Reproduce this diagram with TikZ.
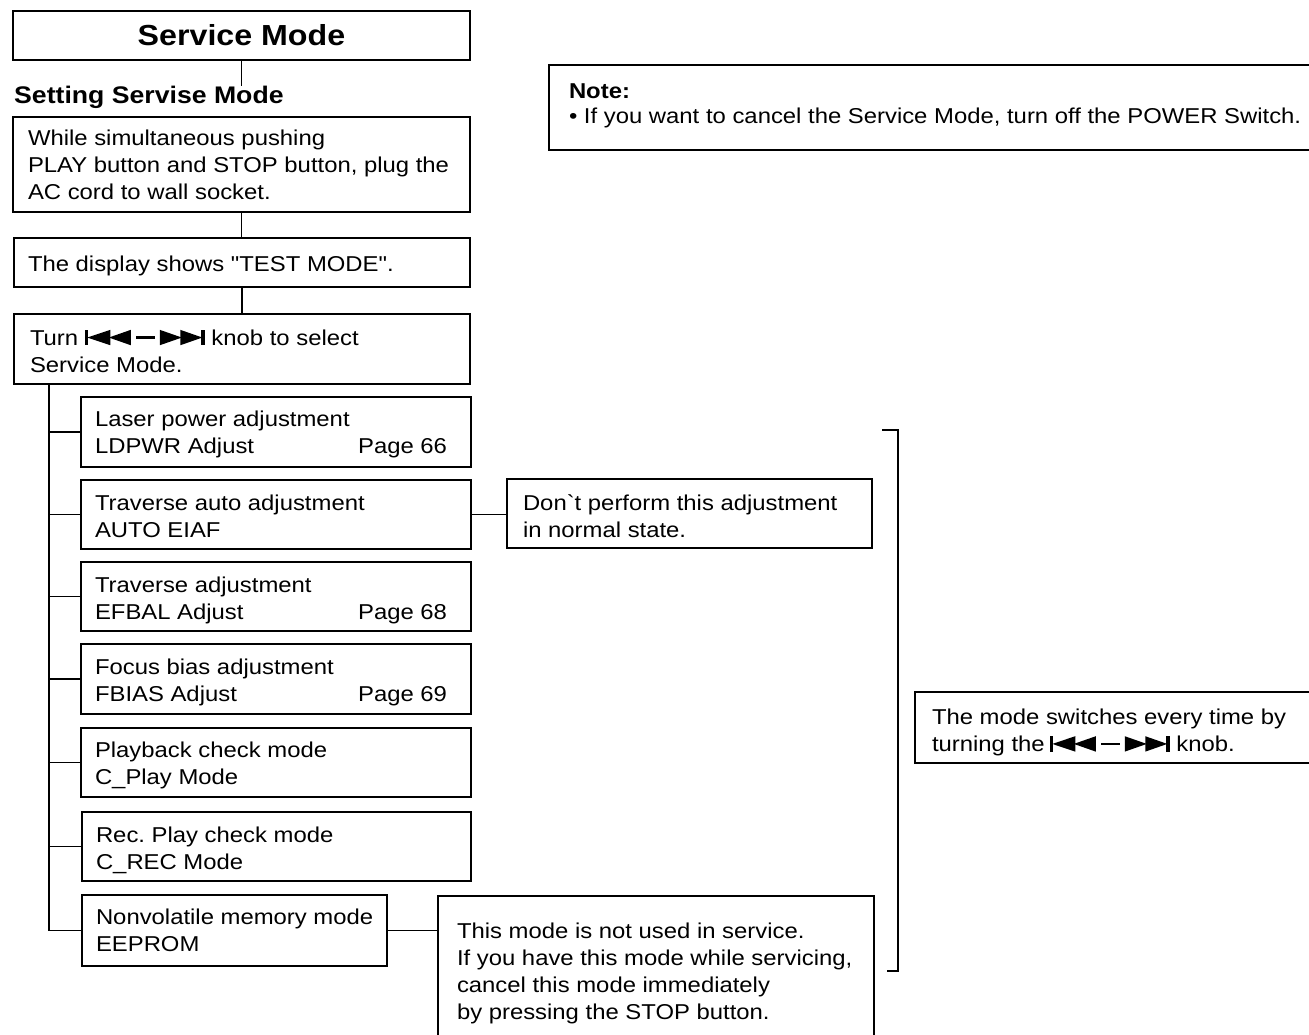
\documentclass[tikz,border=0pt]{standalone}
\usepackage{fontspec}
\newfontfamily\dfont{Liberation Sans}[FakeStretch=1.11]
\newcommand\txtfont{\dfont\fontsize{21.5}{27}\selectfont}
\newcommand\ts[1]{\rule{0pt}{#1pt}}
\frenchspacing
\newcommand\knob{\tikz[x=1pt,y=1pt,baseline=0pt]{%
 \fill[black] (0,0) rectangle (3.3,15.4);
 \fill[black] (2.5,7.7) -- (25.5,15.4) -- (25.5,0) -- cycle;
 \fill[black] (24,7.7) -- (46,15.4) -- (46,0) -- cycle;
 \fill[black] (51,6.7) rectangle (70,8.8);
 \fill[black] (75,0) -- (75,15.4) -- (97,7.7) -- cycle;
 \fill[black] (95.5,0) -- (95.5,15.4) -- (117.5,7.7) -- cycle;
 \fill[black] (116.5,0) rectangle (120,15.4);}}
\begin{document}
\begin{tikzpicture}[x=1pt,y=-1pt,
  box/.style={draw, line width=2.5pt, outer sep=0pt, inner ysep=0pt, anchor=north west,
    align=left, font=\txtfont, execute at begin node={\frenchspacing\spaceskip=0pt\xspaceskip=0pt\relax}},
  conn/.style={line width=1.6pt},
  mode/.style={box, inner xsep=14pt, text width=362pt, minimum height=69pt},
  side/.style={box, line width=2.2pt}
]
\clip (0,0) rectangle (1309,1035);
\fill[white] (0,0) rectangle (1309,1035);

\node[draw, line width=2.5pt, outer sep=0pt, inner sep=0pt, anchor=north west,
  minimum width=457pt, minimum height=49pt,
  font=\dfont\bfseries\fontsize{29}{34}\selectfont] (title) at (13,11) {Service Mode};
\node[anchor=base west, inner sep=0pt, font=\dfont\bfseries\fontsize{24}{28}\selectfont]
  (setting) at (14,104) {Setting Servise Mode};

\node[box, inner xsep=15pt, text width=427pt, minimum height=95pt] (b1) at (13,117)
  {While simultaneous pushing\\\mbox{PLAY button and STOP button, plug the}\\AC cord to wall socket.};
\node[box, inner xsep=14pt, text width=428pt, minimum height=49pt] (b2) at (14,238)
  {\ts{21.7}The display shows "TEST MODE".};
\node[box, inner xsep=16pt, text width=424pt, minimum height=70pt] (b3) at (14,314)
  {\ts{19.7}Turn \knob{} knob to select\\Service Mode.};

\node[mode, minimum height=70pt] (m1) at (81,397)
  {\ts{19.7}Laser power adjustment\\LDPWR Adjust\hspace{0pt plus 1fill}Page 66\rule{10pt}{0pt}};
\node[mode] (m2) at (81,480) {\ts{19.7}Traverse auto adjustment\\AUTO EIAF};
\node[mode] (m3) at (81,562)
  {\ts{22.7}Traverse adjustment\\EFBAL Adjust\hspace{0pt plus 1fill}Page 68\rule{10pt}{0pt}};
\node[mode, minimum height=70pt] (m4) at (81,644)
  {\ts{21.7}Focus bias adjustment\\FBIAS Adjust\hspace{0pt plus 1fill}Page 69\rule{10pt}{0pt}};
\node[mode] (m5) at (81,728) {\ts{21.7}Playback check mode\\C\_Play Mode};
\node[mode, text width=361pt] (m6) at (82,812) {\ts{23.7}Rec. Play check mode\\C\_REC Mode};
\node[mode, text width=277pt, minimum height=71pt] (m7) at (82,895)
  {\mbox{Nonvolatile memory mode}\\EEPROM};

\node[side, inner xsep=16pt, text width=333pt, minimum height=69pt] (dont) at (507,479)
  {\ts{21.7}Don`t perform this adjustment\\in normal state.};
\node[side, inner xsep=19pt, text width=398pt, minimum height=151pt] (ee) at (438,896)
  {\ts{19.7}This mode is not used in service.\\\mbox{If you have this mode while servicing,}\\cancel this mode immediately\\by pressing the STOP button.};
\node[side, inner xsep=20pt, text width=760pt, minimum height=85pt,
  font=\dfont\fontsize{21.5}{25}\selectfont] (note) at (549,65)
  {{\bfseries Note:}\\\mbox{• If you want to cancel the Service Mode, turn off the POWER Switch.}\rule[-8.5pt]{0pt}{0pt}};
\node[side, inner xsep=17pt, text width=400pt, minimum height=71pt] (sw) at (915,692)
  {\ts{25.7}The mode switches every time by\\turning the\hspace{5pt}\knob{} knob.};

\draw[conn] (title.south) -- (title.south |- setting.north);
\draw[conn] (b1.south) -- (b1.south |- b2.north);
\draw[conn] (b2.south) -- (b2.south |- b3.north);
\coordinate (trunk) at ([xshift=35pt]b3.south west);
\draw[conn] (trunk) |- (m7.west);
\foreach \m in {m1,m2,m3,m4,m5,m6} \draw[conn] (trunk |- \m.west) -- (\m.west);
\draw[conn] (m2.east) -- (m2.east -| dont.west);
\draw[conn] (m7.east) -- (m7.east -| ee.west);
\draw[line width=2pt] (882,430) -- (898,430) -- (898,971) -- (887,971);
\end{tikzpicture}
\end{document}
